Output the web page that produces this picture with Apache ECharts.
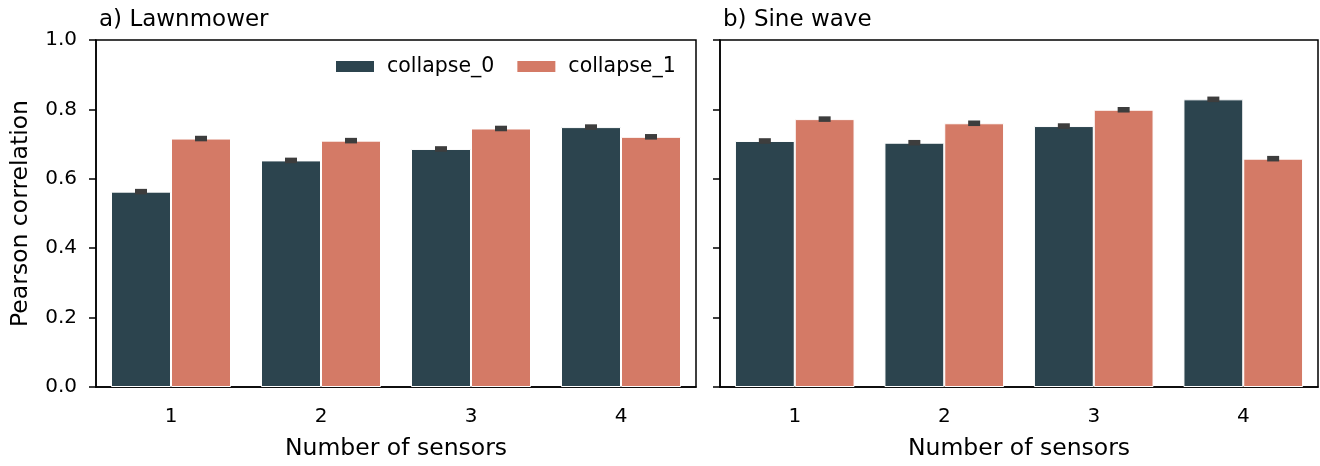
<!DOCTYPE html>
<html>
<head>
<meta charset="utf-8">
<script src="https://cdn.jsdelivr.net/npm/echarts@6/dist/echarts.min.js"></script>
<style>
  html, body { margin: 0; padding: 0; background: #fff; }
  #chart { width: 1320px; height: 466px; }
</style>
</head>
<body>
<div id="chart"></div>
<script>
// data
var sensors = ['1', '2', '3', '4'];
var lawn0 = [0.563, 0.653, 0.686, 0.749];
var lawn1 = [0.716, 0.710, 0.745, 0.721];
var sine0 = [0.709, 0.704, 0.752, 0.829];
var sine1 = [0.772, 0.760, 0.799, 0.658];
var errHalf = 0.008;

var dark = '#2c444e';
var salmon = '#d47a66';
var font = 'DejaVu Sans';

function errSeries(idx, vals, shift) {
    return {
        type: 'custom',
        xAxisIndex: idx,
        yAxisIndex: idx,
        z: 5,
        silent: true,
        data: vals.map(function (v, i) { return [i, v]; }),
        renderItem: function (params, api) {
            var band = api.size([1, 0])[0];
            var c = api.coord([api.value(0), api.value(1)]);
            var top = api.coord([api.value(0), api.value(1) + errHalf])[1];
            var bot = api.coord([api.value(0), api.value(1) - errHalf])[1];
            var x = c[0] + shift * band * 0.2;
            return {
                type: 'rect',
                shape: { x: x - 6, y: top, width: 12, height: bot - top },
                style: { fill: '#3d3d3d' }
            };
        }
    };
}

function barSeries(idx, name, vals, color) {
    return {
        name: name,
        type: 'bar',
        xAxisIndex: idx,
        yAxisIndex: idx,
        data: vals,
        barGap: '0%',
        barCategoryGap: '20%',
        itemStyle: { color: color, borderColor: '#ffffff', borderWidth: 1 }
    };
}

function xAxis(idx) {
    return {
        type: 'category',
        gridIndex: idx,
        data: sensors,
        name: 'Number of sensors',
        nameLocation: 'middle',
        nameGap: 50,
        nameTextStyle: { fontFamily: font, fontSize: 23.5, color: '#000' },
        axisLine: { lineStyle: { color: '#000', width: 1.5 } },
        axisTick: { alignWithLabel: true, length: 7, lineStyle: { color: '#000', width: 1.5 } },
        axisLabel: { fontFamily: font, fontSize: 20, color: '#000', margin: 20 }
    };
}

function yAxis(idx, showLabels) {
    return {
        type: 'value',
        gridIndex: idx,
        min: 0,
        max: 1,
        interval: 0.2,
        name: showLabels ? 'Pearson correlation' : '',
        nameLocation: 'middle',
        nameGap: 63,
        nameTextStyle: { fontFamily: font, fontSize: 23.5, color: '#000' },
        axisLine: { show: true, lineStyle: { color: '#000', width: 1.5 } },
        axisTick: { show: true, length: 7, lineStyle: { color: '#000', width: 1.5 } },
        splitLine: { show: false },
        axisLabel: {
            show: showLabels,
            fontFamily: font, fontSize: 20, color: '#000', margin: 19,
            formatter: function (v) { return v.toFixed(1); }
        }
    };
}

var chart = echarts.init(document.getElementById('chart'));
chart.setOption({
    animation: false,
    title: [
        { text: 'a) Lawnmower', left: 94, top: 4, textStyle: { fontFamily: font, fontSize: 23, fontWeight: 'normal', color: '#000' } },
        { text: 'b) Sine wave', left: 718, top: 4, textStyle: { fontFamily: font, fontSize: 23, fontWeight: 'normal', color: '#000' } }
    ],
    legend: {
        data: ['collapse_0', 'collapse_1'],
        left: 334,
        top: 56,
        padding: 0,
        itemWidth: 40,
        itemHeight: 13,
        itemGap: 21,
        icon: 'rect',
        textStyle: { fontFamily: font, fontSize: 20.5, color: '#000', padding: [0, 0, 0, 7] }
    },
    grid: [
        { left: 96, top: 40, width: 600, height: 351, show: true, borderColor: '#000', borderWidth: 1.5 },
        { left: 720, top: 40, width: 598, height: 351, show: true, borderColor: '#000', borderWidth: 1.5 }
    ],
    xAxis: [xAxis(0), xAxis(1)],
    yAxis: [yAxis(0, true), yAxis(1, false)],
    series: [
        barSeries(0, 'collapse_0', lawn0, dark),
        barSeries(0, 'collapse_1', lawn1, salmon),
        barSeries(1, 'collapse_0', sine0, dark),
        barSeries(1, 'collapse_1', sine1, salmon),
        errSeries(0, lawn0, -1),
        errSeries(0, lawn1, 1),
        errSeries(1, sine0, -1),
        errSeries(1, sine1, 1)
    ]
});
</script>
</body>
</html>
